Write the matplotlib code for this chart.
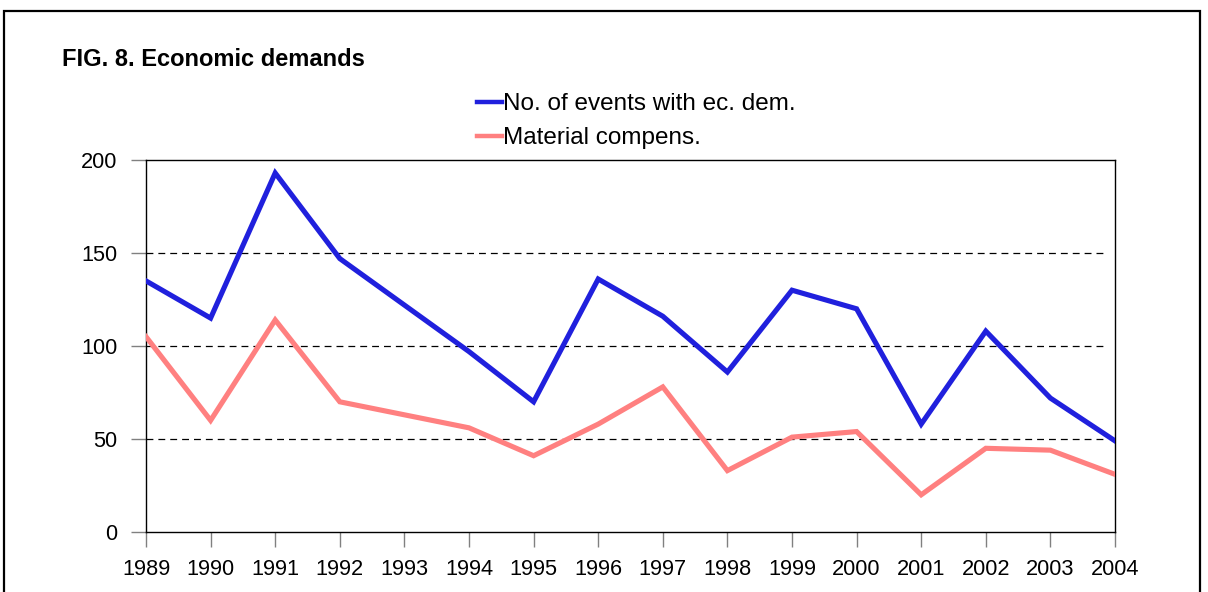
import matplotlib
matplotlib.use("Agg")
import matplotlib.pyplot as plt
from matplotlib.patches import Rectangle
from matplotlib.lines import Line2D

years = ["1989", "1990", "1991", "1992", "1993", "1994", "1995", "1996",
         "1997", "1998", "1999", "2000", "2001", "2002", "2003", "2004"]
events_ec_dem = [135, 115, 193, 147, 122, 97, 70, 136, 116, 86, 130, 120, 58, 108, 72, 49]
material_compens = [105, 60, 114, 70, 63, 56, 41, 58, 78, 33, 51, 54, 20, 45, 44, 31]
y_ticks = [0, 50, 100, 150, 200]

plt.rcParams['font.family'] = ['Liberation Sans', 'DejaVu Sans']

W, H = 1208, 592
fig = plt.figure(figsize=(W / 100, H / 100), dpi=100)
ax = fig.add_axes([146 / W, 1 - 532 / H, (1115 - 146) / W, (532 - 160) / H])

x = list(range(len(years)))
blue = '#2020DD'
pink = '#FF8080'
ax.plot(x, events_ec_dem, color=blue, lw=3.7, solid_joinstyle='miter', zorder=4,
        label='No. of events with ec. dem.')
ax.plot(x, material_compens, color=pink, lw=3.7, solid_joinstyle='miter', zorder=3,
        label='Material compens.')

ax.set_xlim(0, len(years) - 1)
ax.set_ylim(0, 200)
ax.set_xticks(x)
ax.set_xticklabels(years)
ax.set_yticks(y_ticks)
ax.set_yticklabels([str(v) for v in y_ticks])

for v in y_ticks[1:-1]:
    ax.axhline(v, xmin=0, xmax=0.99, color='black', lw=0.9, ls=(0, (5.5, 4)), zorder=2)

for s in ax.spines.values():
    s.set_color('black')
    s.set_linewidth(1.0)

ax.tick_params(axis='both', direction='out', length=10.5, width=1.0, color='#808080',
               labelsize=15.7, labelcolor='black')
ax.tick_params(axis='y', pad=10)
ax.tick_params(axis='x', pad=9)

fig.text(62 / W, 1 - 59 / H, 'FIG. 8. Economic demands', fontsize=17, fontweight='bold',
         ha='left', va='center')

handles = [Line2D([0], [0], color=blue, lw=3.2), Line2D([0], [0], color=pink, lw=3.2)]
fig.legend(handles, ['No. of events with ec. dem.', 'Material compens.'],
           loc='upper left', bbox_to_anchor=(477 / W, 1 - 93 / H), frameon=False,
           fontsize=17.5, handlelength=1.03, handletextpad=0.05, labelspacing=0.5,
           borderpad=0, borderaxespad=0)

frame = Rectangle((3.5 / W, -0.1), (1200 - 3.5) / W, 1.1 - 10.5 / H,
                  transform=fig.transFigure, fill=False, edgecolor='black', lw=1.6,
                  clip_on=False)
fig.patches.append(frame)

fig.savefig('out.png', dpi=100)
